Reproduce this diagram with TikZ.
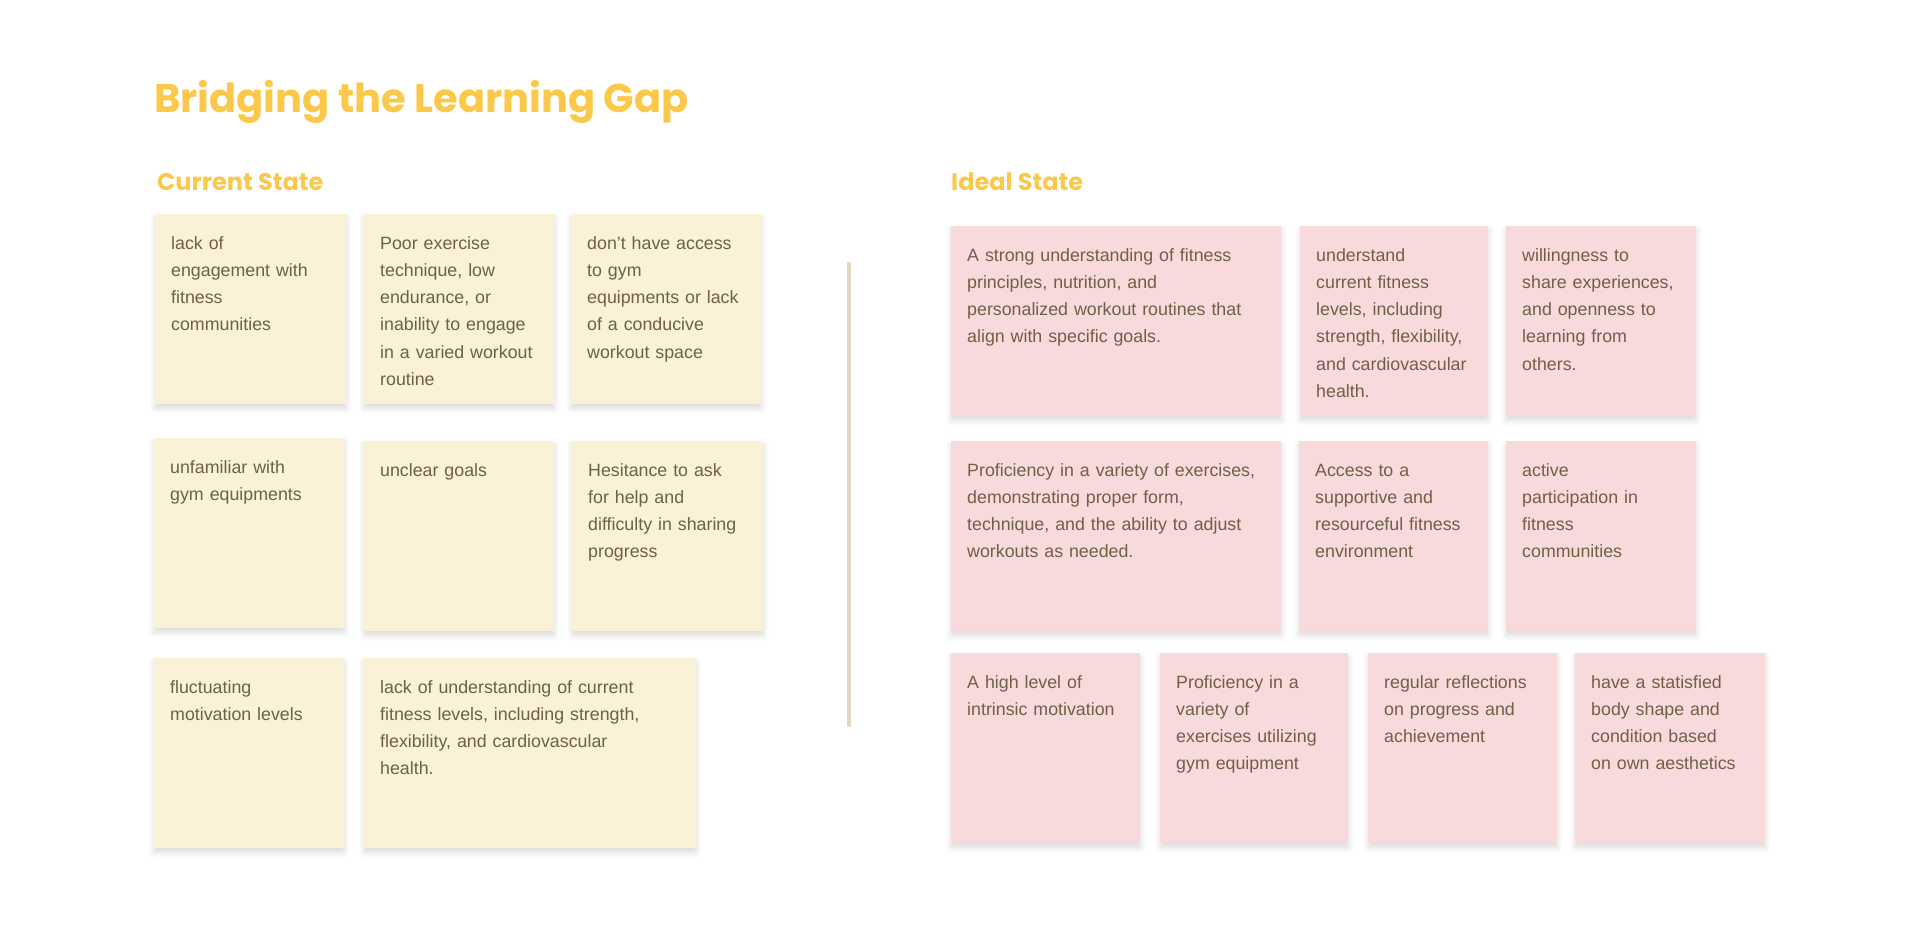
\documentclass[tikz,border=0pt]{standalone}
\usepackage{fontspec}
\setmainfont{Liberation Sans}
\newfontfamily\headfont{Poppins}
\usetikzlibrary{shadows.blur}

\definecolor{headyellow}{HTML}{FCC84A}
\definecolor{notetext}{HTML}{6E6146}
\definecolor{yellowfill}{HTML}{FAF1D6}
\definecolor{pinkfill}{HTML}{F8D9DC}
\definecolor{sepcolor}{HTML}{E3D8C5}

\hyphenpenalty=10000
\exhyphenpenalty=10000

\begin{document}
\begin{tikzpicture}[x=1pt, y=-1pt,
  note/.style={anchor=north west, align=left, inner xsep=16pt, inner ysep=0pt,
    text height=35pt, text depth=155pt, text width=#1, text=notetext,
    font=\fontsize{17.8}{27.2}\selectfont,
    blur shadow={shadow xshift=0pt, shadow yshift=-4pt, shadow blur radius=6pt, shadow opacity=15}},
  ynote/.style={note=#1, fill=yellowfill},
  pnote/.style={note=#1, fill=pinkfill},
  heading/.style={anchor=base west, inner sep=0pt, text=headyellow, font=\headfont\bfseries\fontsize{24}{28}\selectfont}]

\useasboundingbox (0,0) rectangle (1920,950);

% titles
\node[anchor=base west, inner sep=0pt, text=headyellow, font=\headfont\bfseries\fontsize{40}{46}\selectfont] (title) at (154,113) {Bridging the Learning Gap};
\node[heading] (current) at (157,190) {Current State};
\node[heading] (ideal) at (951,190) {Ideal State};

% current state
\node[ynote=159pt] (lackeng) at (155,214) {lack of\\engagement with\\fitness\\communities};
\node[ynote=158pt] (poortech) at (364,214) {Poor exercise\\technique, low\\endurance, or\\inability to engage\\in a varied workout\\routine};
\node[ynote=158pt] (noaccess) at (571,214) {don't have access\\to gym\\equipments or lack\\of a conducive\\workout space};

\node[ynote=158pt] (unfam) at (154,438) {unfamiliar with\\gym equipments};
\node[ynote=158pt] (unclear) at (364,441) {unclear goals};
\node[ynote=159pt] (hesit) at (572,441) {Hesitance to ask\\for help and\\difficulty in sharing\\progress};

\node[ynote=158pt] (fluct) at (154,658) {fluctuating\\motivation levels};
\node[ynote=300pt] (lackund) at (364,658) {lack of understanding of current\\fitness levels, including strength,\\flexibility, and cardiovascular\\health.};

% divider
\coordinate (septop) at (849,262);
\coordinate (sepbot) at (849,727);
\draw[sepcolor, line width=4pt] (septop) -- (sepbot);

% ideal state
\node[pnote=298pt] (strong) at (951,226) {A strong understanding of fitness\\principles, nutrition, and\\personalized workout routines that\\align with specific goals.};
\node[pnote=156pt] (underst) at (1300,226) {understand\\current fitness\\levels, including\\strength, flexibility,\\and cardiovascular\\health.};
\node[pnote=158pt] (willing) at (1506,226) {willingness to\\share experiences,\\and openness to\\learning from\\others.};

\node[pnote=298pt] (profic) at (951,441) {Proficiency in a variety of exercises,\\demonstrating proper form,\\technique, and the ability to adjust\\workouts as needed.};
\node[pnote=157pt] (access) at (1299,441) {Access to a\\supportive and\\resourceful fitness\\environment};
\node[pnote=158pt] (active) at (1506,441) {active\\participation in\\fitness\\communities};

\node[pnote=157pt] (highlvl) at (951,653) {A high level of\\intrinsic motivation};
\node[pnote=156pt] (proficgym) at (1160,653) {Proficiency in a\\variety of\\exercises utilizing\\gym equipment};
\node[pnote=157pt] (reflect) at (1368,653) {regular reflections\\on progress and\\achievement};
\node[pnote=158pt] (satisf) at (1575,653) {have a statisfied\\body shape and\\condition based\\on own aesthetics};

\end{tikzpicture}
\end{document}
